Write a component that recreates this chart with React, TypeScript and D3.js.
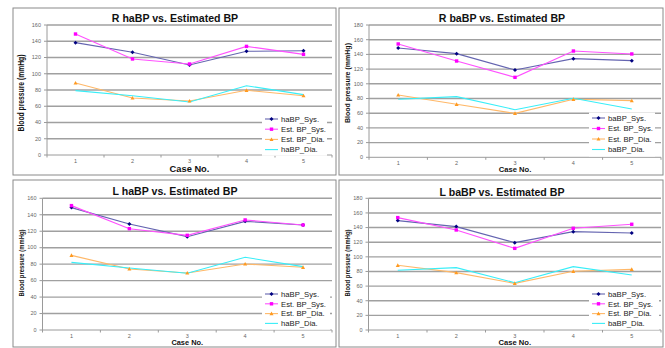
import React from "react";
import * as d3 from "d3";

const cases = ["1", "2", "3", "4", "5"];

// Top-left: R haBP vs. Estimated BP
const rHaSys = [138.3, 126.4, 110.8, 127.6, 128.4];
const rHaEstSys = [148.9, 118.2, 112.0, 133.7, 123.9];
const rHaEstDia = [88.6, 70.2, 66.5, 79.6, 73.0];
const rHaDia = [79.2, 73.0, 65.2, 85.3, 74.3];

// Top-right: R baBP vs. Estimated BP
const rBaSys = [148.7, 141.0, 118.8, 134.2, 131.5];
const rBaEstSys = [154.2, 131.0, 108.8, 144.6, 140.6];
const rBaEstDia = [84.8, 72.1, 59.8, 78.9, 77.1];
const rBaDia = [78.9, 82.5, 64.8, 80.3, 65.7];

// Bottom-left: L haBP vs. Estimated BP
const lHaSys = [148.7, 128.8, 113.4, 132.0, 127.6];
const lHaEstSys = [151.1, 123.1, 115.0, 133.7, 127.6];
const lHaEstDia = [90.7, 74.1, 69.3, 80.2, 76.2];
const lHaDia = [82.2, 75.3, 68.9, 88.3, 77.0];

// Bottom-right: L baBP vs. Estimated BP
const lBaSys = [149.5, 141.3, 119.4, 134.4, 132.6];
const lBaEstSys = [153.6, 136.7, 111.6, 139.0, 144.5];
const lBaEstDia = [88.4, 78.4, 63.8, 80.2, 82.9];
const lBaDia = [81.6, 85.2, 64.7, 86.6, 75.2];

const ticks160 = [0, 20, 40, 60, 80, 100, 120, 140, 160];
const ticks180 = [0, 20, 40, 60, 80, 100, 120, 140, 160, 180];

const titles = [
  "R haBP vs. Estimated BP",
  "R baBP vs. Estimated BP",
  "L haBP vs. Estimated BP",
  "L baBP vs. Estimated BP",
];
const legendNames = [
  ["haBP_Sys.", "Est. BP_Sys.", "Est. BP_Dia.", "haBP_Dia."],
  ["baBP_Sys.", "Est. BP_Sys.", "Est. BP_Dia.", "baBP_Dia."],
  ["haBP_Sys.", "Est. BP_Sys.", "Est. BP_Dia.", "haBP_Dia."],
  ["baBP_Sys.", "Est. BP_Sys.", "Est. BP_Dia.", "baBP_Dia."],
];
const panelSeries = [
  [rHaSys, rHaEstSys, rHaEstDia, rHaDia],
  [rBaSys, rBaEstSys, rBaEstDia, rBaDia],
  [lHaSys, lHaEstSys, lHaEstDia, lHaDia],
  [lBaSys, lBaEstSys, lBaEstDia, lBaDia],
];
const panelTicks = [ticks160, ticks180, ticks160, ticks180];

const seriesStyle = [
  { line: "#6464b0", mark: "#000080", marker: "diamond" },
  { line: "#ff50ff", mark: "#ff00ff", marker: "square" },
  { line: "#ffb868", mark: "#ff9a20", marker: "triangle" },
  { line: "#38eef8", mark: "#38eef8", marker: "none" },
];

const layouts = [
  { fx: 13, fy: 8, fw: 323, fh: 167, px0: 47, px1: 332, py0: 155, py1: 25, titleY: 22, titleX: 175, ylX: 21, ylY: 93, ylLen: 77, ylSize: 8.5, xlY: 172.3, xlSize: 9.3, tlY: 163, legX: 262, legY: 113, legW: 65, rowY: 119, rowH: 10.2 },
  { fx: 339, fy: 8, fw: 324, fh: 167, px0: 369, px1: 661, py0: 157.3, py1: 25, titleY: 22, titleX: 502, ylX: 347, ylY: 83, ylLen: 80, ylSize: 7, xlY: 172, xlSize: 7.6, tlY: 165, legX: 589, legY: 112.5, legW: 66, rowY: 118, rowH: 10.5 },
  { fx: 13, fy: 180, fw: 323, fh: 167, px0: 42.5, px1: 332, py0: 330, py1: 198.3, titleY: 195, titleX: 175, ylX: 21, ylY: 263, ylLen: 67, ylSize: 7, xlY: 345, xlSize: 7.4, tlY: 338, legX: 262, legY: 288.5, legW: 68, rowY: 294, rowH: 9.8 },
  { fx: 339, fy: 180, fw: 324, fh: 167, px0: 368.5, px1: 661, py0: 330, py1: 198.3, titleY: 196, titleX: 502, ylX: 347, ylY: 263, ylLen: 67, ylSize: 7, xlY: 345, xlSize: 7.6, tlY: 338, legX: 589, legY: 288.5, legW: 70, rowY: 294, rowH: 9.8 },
];

const FONT = "'Liberation Sans', Arial, sans-serif";

function Marker({ kind, x, y, color }: { kind: string; x: number; y: number; color: string }) {
  if (kind === "diamond") {
    const s = 2.0;
    return <path d={`M${x},${y - s}L${x + s},${y}L${x},${y + s}L${x - s},${y}Z`} fill={color} />;
  }
  if (kind === "square") {
    const s = 1.7;
    return <rect x={x - s} y={y - s} width={2 * s} height={2 * s} fill={color} />;
  }
  if (kind === "triangle") {
    const s = 2.0;
    return <path d={`M${x},${y - s}L${x + s},${y + s * 0.8}L${x - s},${y + s * 0.8}Z`} fill={color} />;
  }
  return null;
}

function Panel({ idx }: { idx: number }) {
  const L = layouts[idx];
  const ticks = panelTicks[idx];
  const yMax = ticks[ticks.length - 1];
  const x = d3.scaleBand<string>().domain(cases).range([L.px0, L.px1]);
  const y = d3.scaleLinear().domain([0, yMax]).range([L.py0, L.py1]);
  const cx = (c: string) => (x(c) as number) + x.bandwidth() / 2;
  const line = d3
    .line<number>()
    .x((_, i) => cx(cases[i]))
    .y((v) => y(v));
  const series = panelSeries[idx];
  const names = legendNames[idx];
  const boundaries = d3.range(cases.length + 1).map((i) => L.px0 + i * x.bandwidth());

  return (
    <g>
      <rect x={L.fx} y={L.fy} width={L.fw} height={L.fh} fill="#fff" stroke="#8a8a8a" strokeWidth={1} />
      {ticks.map((t) =>
        t === 0 ? null : (
          <line key={"g" + t} x1={L.px0} x2={L.px1} y1={y(t)} y2={y(t)} stroke="#a0a0a0" strokeWidth={1.4} />
        )
      )}
      <line x1={L.px0} x2={L.px0} y1={L.py1} y2={L.py0} stroke="#9a9a9a" strokeWidth={1} />
      <line x1={L.px0} x2={L.px1} y1={L.py0} y2={L.py0} stroke="#9a9a9a" strokeWidth={1} />
      {ticks.map((t) => (
        <g key={"t" + t}>
          <line x1={L.px0 - 3} x2={L.px0} y1={y(t)} y2={y(t)} stroke="#9a9a9a" strokeWidth={1} />
          <text x={L.px0 - 6} y={y(t) + 1.8} fontSize={5.5} fill="#666" textAnchor="end" fontFamily={FONT}>
            {t}
          </text>
        </g>
      ))}
      {boundaries.map((b, i) => (
        <line key={"b" + i} x1={b} x2={b} y1={L.py0} y2={L.py0 + 2.5} stroke="#9a9a9a" strokeWidth={1} />
      ))}
      {cases.map((c) => (
        <text key={"x" + c} x={cx(c)} y={L.tlY} fontSize={5.5} fill="#666" textAnchor="middle" fontFamily={FONT}>
          {c}
        </text>
      ))}
      {series.map((vals, si) => (
        <path key={"l" + si} d={line(vals) || ""} fill="none" stroke={seriesStyle[si].line} strokeWidth={1.1} />
      ))}
      {series.map((vals, si) =>
        vals.map((v, i) => (
          <Marker key={"m" + si + "-" + i} kind={seriesStyle[si].marker} x={cx(cases[i])} y={y(v)} color={seriesStyle[si].mark} />
        ))
      )}
      <text x={L.titleX} y={L.titleY} fontSize={10.6} fontWeight="bold" textAnchor="middle" fontFamily={FONT} fill="#111">
        {titles[idx]}
      </text>
      <text
        transform={`translate(${L.ylX + 3},${L.ylY}) rotate(-90)`}
        fontSize={L.ylSize}
        fontWeight="bold"
        textAnchor="middle"
        fontFamily={FONT}
        textLength={L.ylLen}
        lengthAdjust="spacingAndGlyphs"
        fill="#111"
      >
        Blood pressure (mmHg)
      </text>
      <text x={(L.px0 + L.px1) / 2} y={L.xlY} fontSize={L.xlSize} fontWeight="bold" textAnchor="middle" fontFamily={FONT} fill="#111">
        Case No.
      </text>
      <rect x={L.legX} y={L.legY} width={L.legW} height={L.rowH * 4 + 2} fill="#fff" />
      {names.map((n, si) => {
        const ry = L.rowY + si * L.rowH;
        const lx = L.legX + 3;
        return (
          <g key={"lg" + si}>
            <line x1={lx} x2={lx + 13} y1={ry} y2={ry} stroke={seriesStyle[si].line} strokeWidth={1.1} />
            <Marker kind={seriesStyle[si].marker} x={lx + 6.5} y={ry} color={seriesStyle[si].mark} />
            <text x={lx + 16} y={ry + 2.8} fontSize={7.7} fill="#222" fontFamily={FONT}>
              {n}
            </text>
          </g>
        );
      })}
    </g>
  );
}

export default function App() {
  return (
    <svg
      width={665}
      height={348}
      style={{ position: "absolute", left: 0, top: 0, background: "#fff" }}
      xmlns="http://www.w3.org/2000/svg"
    >
      <rect x={0} y={0} width={665} height={348} fill="#fff" />
      {[0, 1, 2, 3].map((i) => (
        <Panel key={i} idx={i} />
      ))}
    </svg>
  );
}
